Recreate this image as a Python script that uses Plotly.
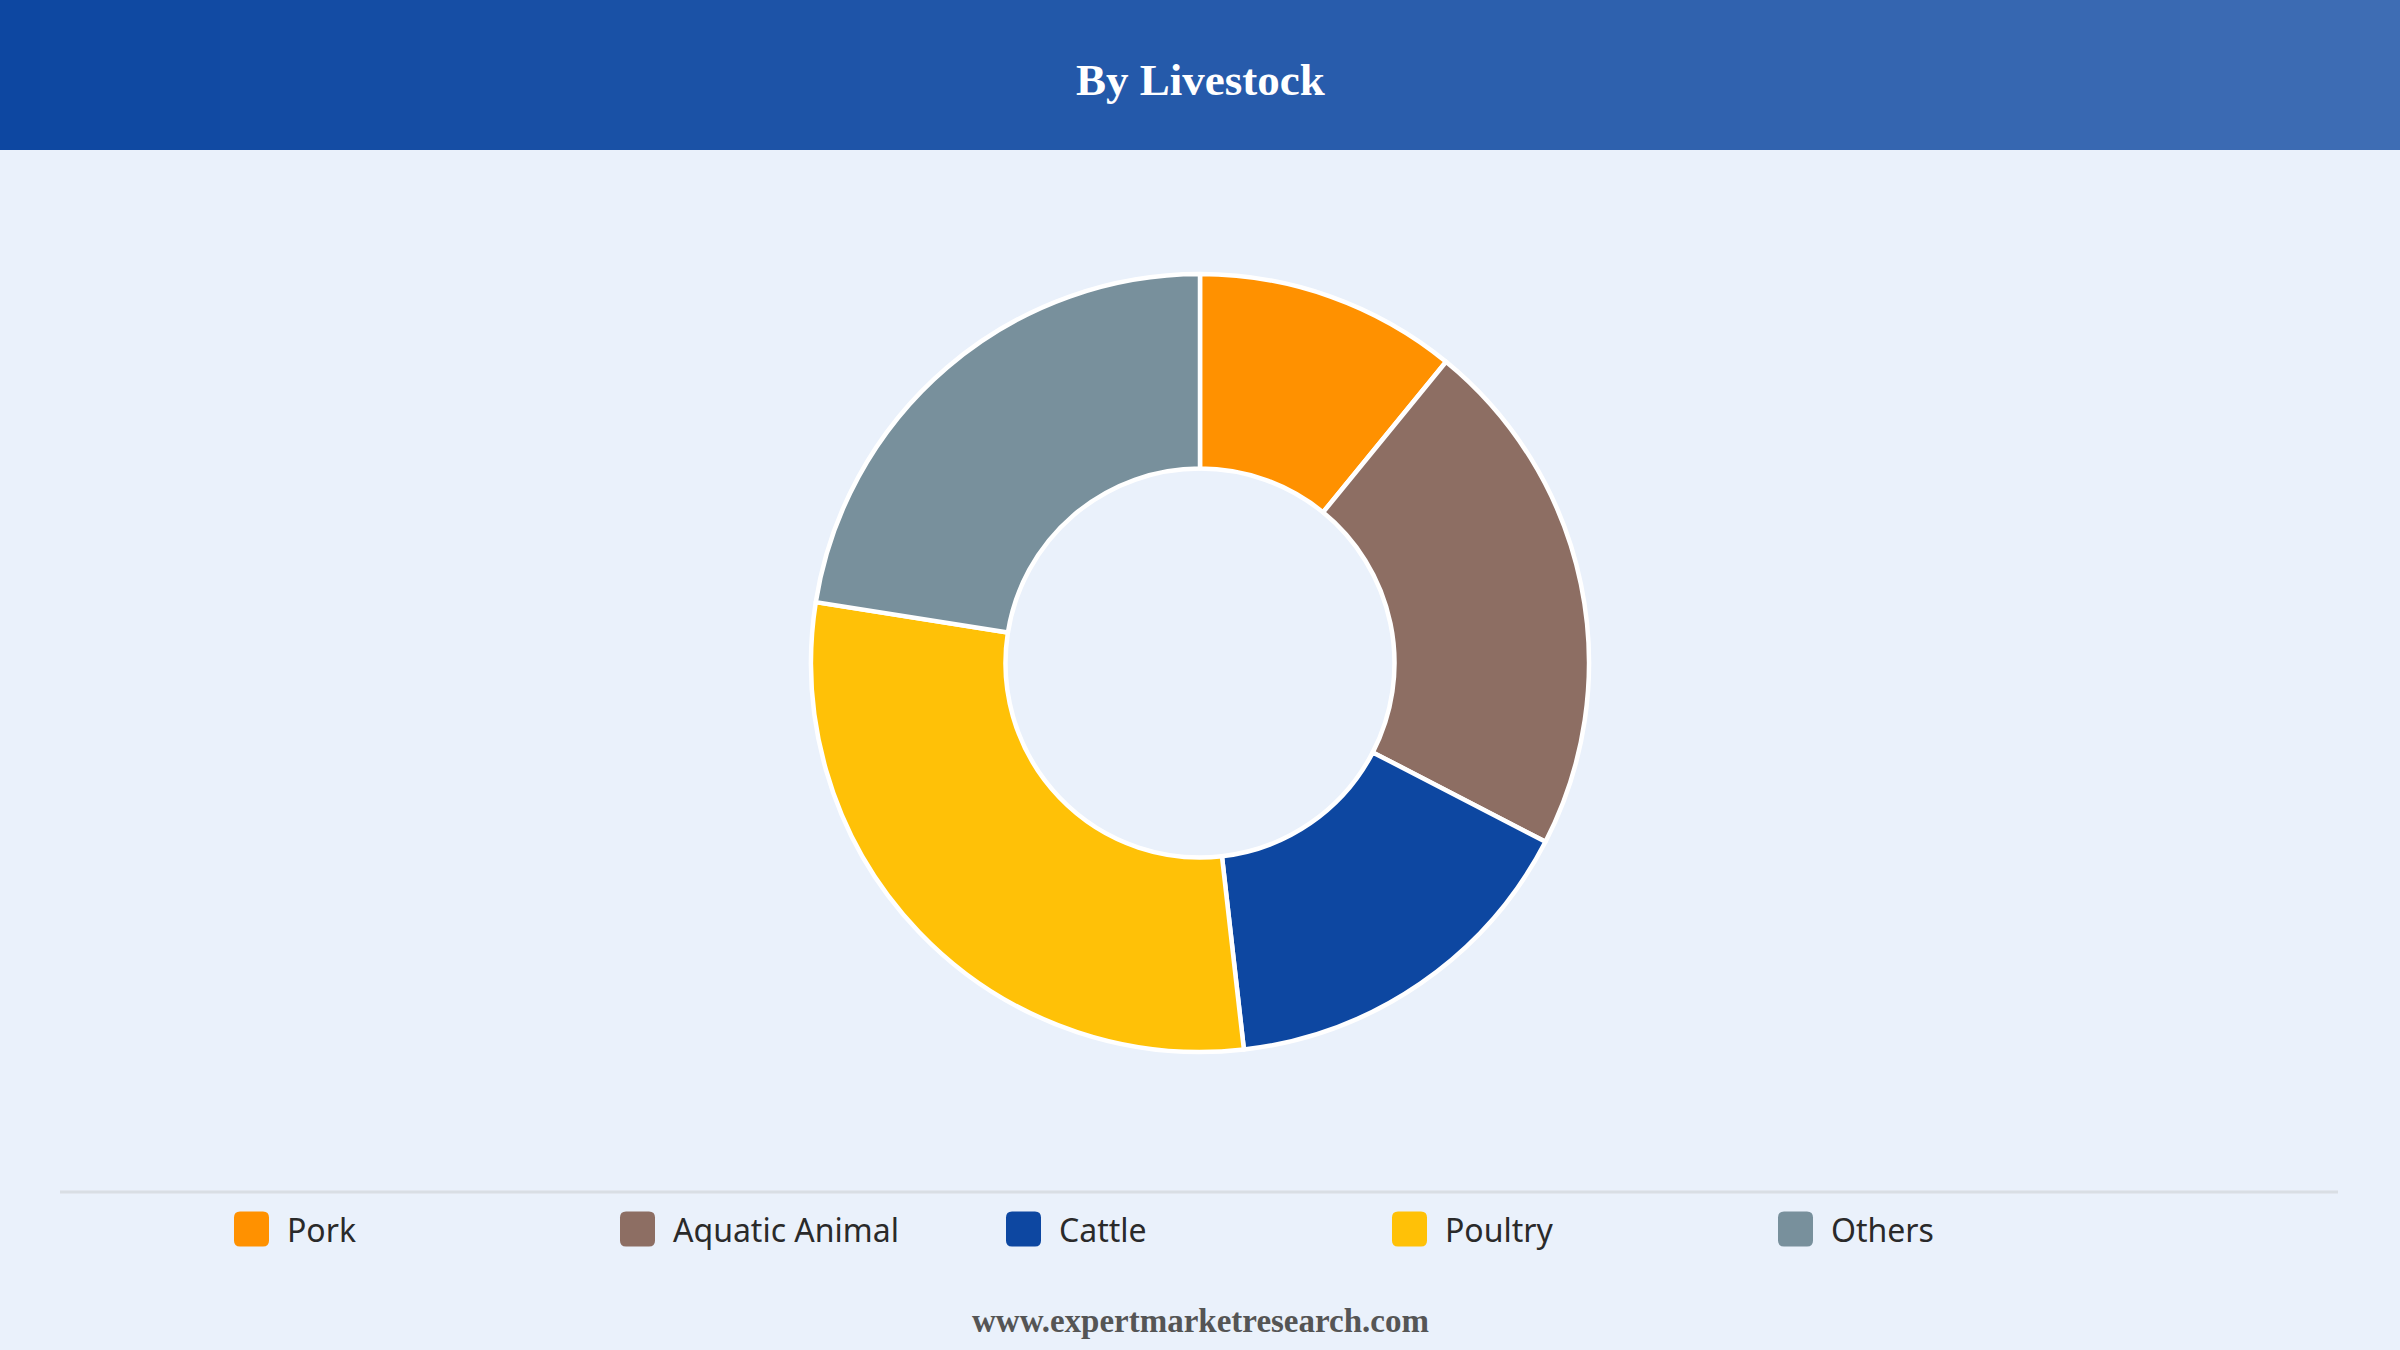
import plotly.graph_objects as go

# ---- data ----
categories = ["Pork", "Aquatic Animal", "Cattle", "Poultry", "Others"]
shares = [10.9, 21.7, 15.6, 29.3, 22.5]
colors = ["#FF9100", "#8D6E63", "#0D47A1", "#FFC107", "#78909C"]
title_text = "By Livestock"
footer_text = "www.expertmarketresearch.com"

W, H = 2400, 1350
BG = "#EAF1FB"

fig = go.Figure()

# donut: center (1200, 663) px, radius ~389 px
cx, cy, r = 1200, 663, 389
fig.add_trace(go.Pie(
    labels=categories,
    values=shares,
    hole=0.5,
    sort=False,
    direction="clockwise",
    rotation=0,
    marker=dict(colors=colors, line=dict(color="white", width=4.5)),
    textinfo="none",
    hoverinfo="label+percent",
    showlegend=False,
    domain=dict(x=[(cx - r) / W, (cx + r) / W], y=[1 - (cy + r) / H, 1 - (cy - r) / H]),
))

shapes = []
# header gradient band
left = (13, 71, 161)
right = (62, 109, 180)
N = 120
header_h = 150
for i in range(N):
    t = i / (N - 1)
    c = tuple(round(left[k] + (right[k] - left[k]) * t) for k in range(3))
    shapes.append(dict(type="rect", xref="paper", yref="paper",
                       x0=i / N, x1=(i + 1) / N + 0.001,
                       y0=1 - header_h / H, y1=1,
                       fillcolor="rgb(%d,%d,%d)" % c, line=dict(width=0), layer="below"))

# separator line
shapes.append(dict(type="line", xref="paper", yref="paper",
                   x0=60 / W, x1=2338 / W, y0=1 - 1192 / H, y1=1 - 1192 / H,
                   line=dict(color="#D9DEE4", width=3)))

annotations = [
    dict(text="<b>%s</b>" % title_text, x=0.5, y=1 - 80 / H, xref="paper", yref="paper",
         showarrow=False, xanchor="center", yanchor="middle",
         font=dict(family="Liberation Serif", size=45, color="white")),
    dict(text="<b>%s</b>" % footer_text, x=0.5, y=1 - 1321 / H, xref="paper", yref="paper",
         showarrow=False, xanchor="center", yanchor="middle",
         font=dict(family="Liberation Serif", size=33, color="#555555")),
]

# custom legend
leg_y = 1229
sq = 35
rad = 6
for i, (name, col) in enumerate(zip(categories, colors)):
    x_left = 234 + 386 * i
    xc = x_left + sq / 2
    h = sq / 2
    path = ("M %f,%f L %f,%f Q %f,%f %f,%f L %f,%f Q %f,%f %f,%f L %f,%f Q %f,%f %f,%f "
            "L %f,%f Q %f,%f %f,%f Z") % (
        -h + rad, -h, h - rad, -h, h, -h, h, -h + rad, h, h - rad, h, h, h - rad, h,
        -h + rad, h, -h, h, -h, h - rad, -h, -h + rad, -h, -h, -h + rad, -h)
    shapes.append(dict(type="path", xref="paper", yref="paper",
                       xsizemode="pixel", ysizemode="pixel",
                       xanchor=xc / W, yanchor=1 - leg_y / H,
                       path=path, fillcolor=col, line=dict(width=0)))
    annotations.append(dict(text=name, x=(x_left + sq + 16) / W, y=1 - leg_y / H,
                            xref="paper", yref="paper", showarrow=False,
                            xanchor="left", yanchor="middle",
                            font=dict(family="Noto Sans", size=32, color="#2A2A2A")))

fig.update_layout(
    width=W, height=H,
    margin=dict(l=0, r=0, t=0, b=0),
    paper_bgcolor=BG, plot_bgcolor=BG,
    shapes=shapes, annotations=annotations,
    showlegend=False,
)

fig.write_html("out.html",
               config={"displayModeBar": False},
               post_script="document.body.style.margin='0';document.body.style.padding='0';"
                           "document.documentElement.style.overflow='hidden';")
